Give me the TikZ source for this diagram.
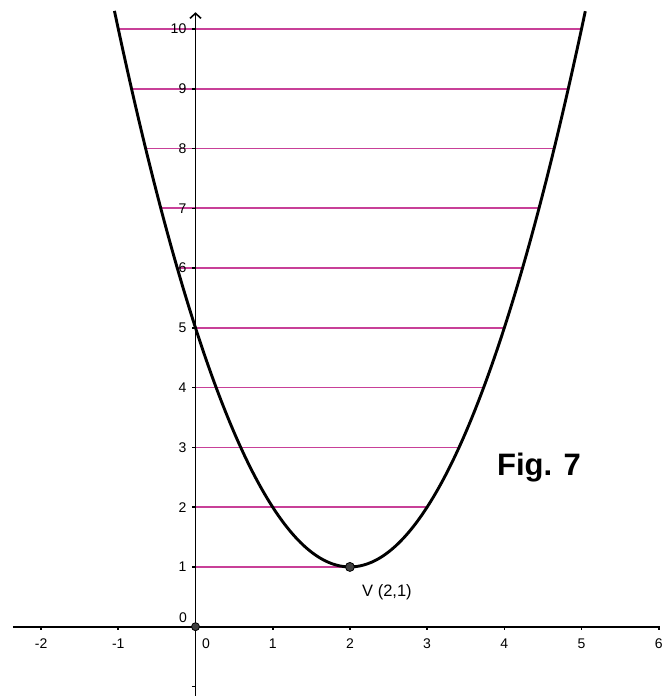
\documentclass[tikz,border=0pt]{standalone}
\usepackage{fontspec}
\setmainfont{Liberation Sans}
\usetikzlibrary{arrows.meta}
\definecolor{lev}{RGB}{200,64,152}
\definecolor{vfill}{RGB}{64,64,64}
\tikzset{
  axisline/.style={line width=1.8pt},
  levelline/.style={lev, line width=1.7pt},
  curveline/.style={line width=2.9pt},
  ticklab/.style={font=\fontsize{14}{16}\selectfont, inner sep=0pt},
  pt/.style={circle, fill=vfill, draw=black, line width=0.8pt, inner sep=0pt, minimum size=9pt},
}
\begin{document}
\begin{tikzpicture}[x=77.2pt, y=59.77pt]
\useasboundingbox (-195.5pt,-69.3pt) rectangle (474.5pt,626.7pt);
% magenta level lines
\foreach \k in {1,...,10}{
  \pgfmathsetmacro{\r}{sqrt(\k-1)}
  \pgfmathsetmacro{\xl}{min(0,2-\r)}
  \pgfmathsetmacro{\xr}{2+\r}
  \draw[levelline] (\xl,\k) -- (\xr,\k);
}
% axes
\coordinate (xa) at (-2.364,0);
\coordinate (xb) at (6.02,0);
\coordinate (ya) at (0,-1.2);
\coordinate (yb) at (0,10.28);
\draw[axisline] (xa) -- (xb);
\draw[axisline, -{Straight Barb[length=5pt,width=11pt,line width=1.6pt]}] (ya) -- (yb);
% x ticks and labels
\foreach \k in {-2,-1,1,2,3,4,5,6}{
  \draw[line width=1.6pt] (\k,0) -- ++(0,-3.5pt);
  \node[ticklab] (xl\k) at (\k,-0.28) {\k};
}
\node[ticklab] (xl0) at (0.137,-0.28) {0};
% y ticks and labels
\foreach \k in {-1,1,2,...,10}{
  \draw[line width=1.6pt] (0,\k) -- ++(-4pt,0);
}
\foreach \k in {1,...,10}{
  \node[ticklab, anchor=east] (yl\k) at ([xshift=-9pt]0,\k) {\k};
}
\node[ticklab] (yl0) at (-0.162,0.145) {0};
% parabola
\draw[curveline, domain=-1.05:5.05, samples=120, smooth] plot (\x,{(\x-2)^2+1});
% points
\node[pt, minimum size=8pt] (O) at (0,0) {};
\node[pt] (V) at (2,1) {};
\node[font=\fontsize{16.5}{19}\selectfont, inner sep=0pt] (Vlab) at (2.48,0.58) {V (2,1)};
\node[font=\bfseries\fontsize{31}{36}\selectfont, inner sep=0pt] (fig) at (4.45,2.655) {Fig. 7};
\end{tikzpicture}
\end{document}
